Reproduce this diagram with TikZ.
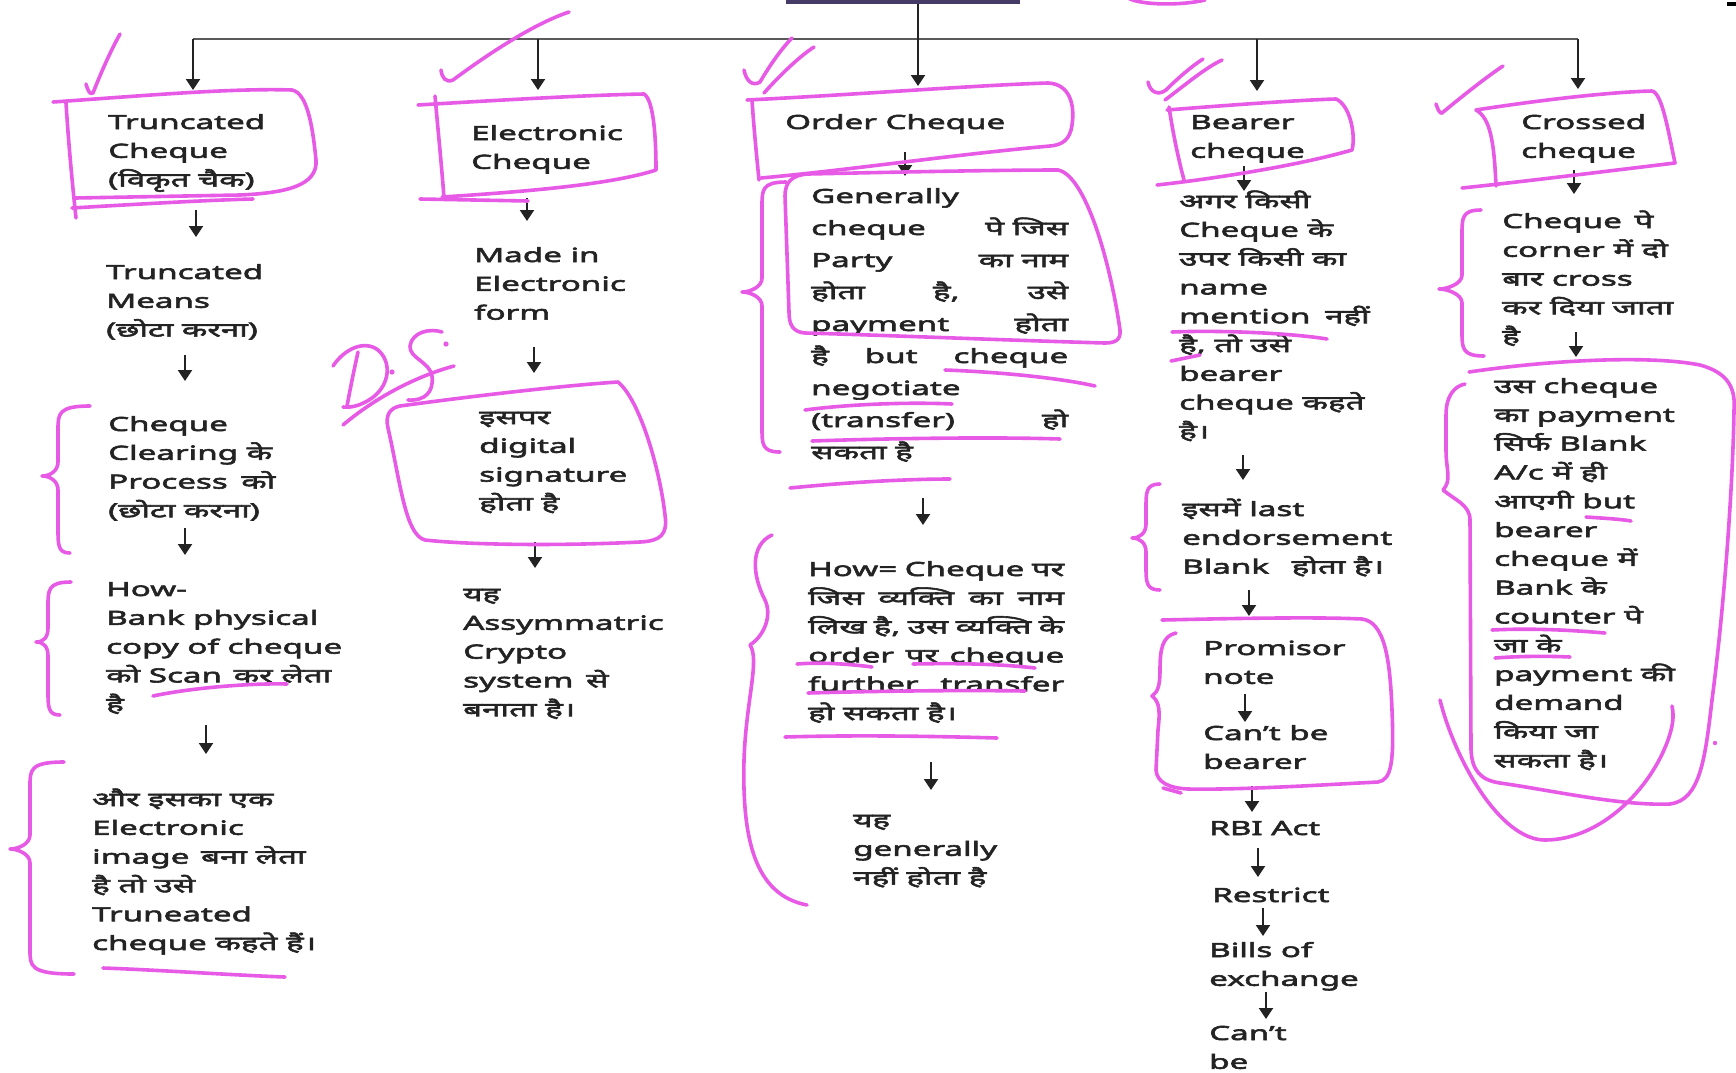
\documentclass[tikz,border=0pt]{standalone}
\usepackage{fontspec}
\setmainfont{Noto Sans}[Script=Devanagari,FakeStretch=1.7,FakeBold=3]
\usetikzlibrary{arrows.meta}
\definecolor{mag}{HTML}{E75AE6}
\definecolor{txtc}{HTML}{232323}
\definecolor{barc}{HTML}{463A66}
\definecolor{linkc}{HTML}{5A5A5A}
% stacked lines, baseline of the node = baseline of the first line
\newcommand\lns[1]{\begin{tabular}[t]{@{}l@{}}#1\end{tabular}}
% a line spread over a fixed width
\newcommand\spread[2]{\hbox to #1pt{#2}}
% vertical arrow between two named coordinates
\newcommand\varrow[4]{\coordinate (#1-s) at (#2,#3);\coordinate (#1-e) at (#2,#4);\draw[arr] (#1-s) -- (#1-e);}
% hand-drawn curly brace: top x,y / spine x / tip x,y / bottom x,y
\newcommand\curly[7]{\draw[ink] (#1,#2) .. controls (#3,#2) and (#3,#2+8) .. (#3,#2+24) -- (#3,#5-14) .. controls (#3,#5-5) and (#4+8,#5) .. (#4,#5) .. controls (#4+8,#5) and (#3,#5+5) .. (#3,#5+14) -- (#3,#7-24) .. controls (#3,#7-8) and (#3,#7) .. (#6,#7);}
\begin{document}
\begin{tikzpicture}[x=1pt,y=-1pt,
  txt/.style={anchor=base west,inner sep=0pt,text=txtc,font=\fontsize{19.5}{28.8}\selectfont},
  txtw/.style={txt,font=\fontsize{19.5}{32}\selectfont},
  arr/.style={draw=txtc,line width=2.2pt,-{Triangle[width=14pt,length=11pt]}},
  link/.style={draw=linkc,line width=1.8pt},
  ink/.style={draw=mag,line width=3.6pt,line cap=round,line join=round}]
\path[use as bounding box,fill=white] (0,0) rectangle (1736,1072);

% ---------- heading bar and distribution line ----------
\fill[barc] (786,-2) rectangle (1020,4);
\fill[black] (1727,2) rectangle (1736,6);
\coordinate (bar) at (918,4);
\coordinate (hubL) at (193,39);
\coordinate (hubR) at (1578,39);
\draw[link] (hubL) -- (hubR);

% ---------- texts ----------
\node[txt] (t1) at (108,129) {\lns{Truncated\\Cheque\\(विकृत चैक)}};
\node[txt] (t2) at (106,279) {\lns{Truncated\\Means\\(छोटा करना)}};
\node[txt] (t3) at (108,431) {\lns{Cheque\\Clearing के\\Process\hspace{5pt} को\\(छोटा करना)}};
\node[txt] (t4) at (106,596) {\lns{How-\\Bank physical\\copy of cheque\\को Scan\hspace{3pt} कर लेता\\है}};
\node[txt] (t5) at (92,806) {\lns{और इसका एक\\Electronic\\image\hspace{3pt} बना लेता\\है तो उसे\\Truneated\\cheque कहते हैं।}};

\node[txt] (e1) at (471,140) {\lns{Electronic\\Cheque}};
\node[txt] (e2) at (474,262) {\lns{Made in\\Electronic\\form}};
\node[txt] (e3) at (479,424) {\lns{इसपर\\digital\\signature\\होता है}};
\node[txt] (e4) at (463,601) {\lns{यह\\Assymmatric\\Crypto\\system\hspace{4pt} से\\बनाता है।}};

\node[txt] (o1) at (785,129) {Order Cheque};
\node[txtw] (o2) at (811,203) {\lns{Generally\\
  \spread{257}{cheque\hfill पे जिस}\\
  \spread{257}{Party\hfill का नाम}\\
  \spread{257}{होता\hfill है,\hfill उसे}\\
  \spread{257}{payment\hfill होता}\\
  \spread{257}{है\hfill but\hfill cheque}\\
  negotiate\\
  \spread{257}{(transfer)\hfill हो}\\
  सकता है}};
\node[txt] (o3) at (808,576) {\lns{\spread{256}{How=\hfill Cheque\hfill पर}\\
  \spread{256}{जिस\hfill व्यक्ति\hfill का\hfill नाम}\\
  \spread{256}{लिख\hfill है,\hfill उस\hfill व्यक्ति\hfill के}\\
  \spread{256}{order\hfill पर\hfill cheque}\\
  \spread{256}{further\hfill transfer}\\
  हो सकता है।}};
\node[txt] (o4) at (853,827) {\lns{यह\\generally\\नहीं होता है}};

\node[txt] (b1) at (1190,129) {\lns{Bearer\\cheque}};
\node[txt] (b2) at (1179,208) {\lns{अगर किसी\\Cheque के\\उपर किसी का\\name\\mention\hspace{6pt} नहीं\\है, तो उसे\\bearer\\cheque कहते\\है।}};
\node[txt] (b3) at (1182,516) {\lns{इसमें last\\endorsement\\Blank\hspace{14pt} होता है।}};
\node[txt] (b4) at (1203,655) {\lns{Promisor\\note}};
\node[txt] (b5) at (1203,740) {\lns{Can’t be\\bearer}};
\node[txt] (b6) at (1209,835) {RBI Act};
\node[txt] (b7) at (1212,902) {Restrict};
\node[txt] (b8) at (1209,957) {\lns{Bills of\\exchange}};
\node[txt] (b9) at (1209,1040) {\lns{Can’t\\be}};

\node[txt] (c1) at (1521,129) {\lns{Crossed\\cheque}};
\node[txt] (c2) at (1502,228) {\lns{Cheque\hspace{4pt} पे\\corner में दो\\बार cross\\कर दिया जाता\\है}};
\node[txt] (c3) at (1494,393) {\lns{उस cheque\\का payment\\सिर्फ Blank\\A/c में ही\\आएगी but\\bearer\\cheque में\\Bank के\\counter पे\\जा के\\payment की\\demand\\किया जा\\सकता है।}};

% ---------- arrows ----------
\draw[arr] (hubL) -- (193,90);
\draw[arr] (hubR) -- (1578,89);
\coordinate (hub2) at (538,39);\coordinate (hub4) at (1257,39);
\draw[arr] (hub2) -- (538,90);
\draw[arr] (hub4) -- (1257,91);
\draw[arr] (bar) -- (918,86);
\varrow{a11}{196}{210}{237}
\varrow{a12}{185}{355}{381}
\varrow{a13}{185}{528}{555}
\varrow{a14}{206}{725}{754}
\varrow{a21}{527}{198}{221}
\varrow{a22}{534}{347}{373}
\varrow{a23}{535}{542}{568}
\varrow{a31}{905}{152}{176}
\varrow{a32}{923}{498}{525}
\varrow{a33}{931}{762}{790}
\varrow{a41}{1244}{166}{191}
\varrow{a42}{1243}{455}{480}
\varrow{a43}{1249}{590}{616}
\varrow{a44}{1245}{694}{722}
\varrow{a45}{1252}{786}{812}
\varrow{a46}{1258}{848}{877}
\varrow{a47}{1263}{908}{936}
\varrow{a48}{1266}{992}{1019}
\varrow{a51}{1574}{170}{194}
\varrow{a52}{1576}{332}{357}

% ---------- pen annotations ----------
% column 1
\draw[ink] (86,84) .. controls (88,91) and (90,95) .. (93,93) .. controls (100,75) and (110,52) .. (120,34);
\draw[ink] (53,102) .. controls (140,96) and (230,88) .. (292,90) .. controls (308,93) and (313,130) .. (316,160) .. controls (318,186) and (285,193) .. (240,195) -- (75,198);
\draw[ink] (72,208) .. controls (140,204) and (210,200) .. (253,199);
\draw[ink] (66,103) .. controls (69,150) and (73,190) .. (76,218);
\curly{90}{406}{58}{42}{476}{70}{553}
\curly{71}{582}{48}{36}{642}{60}{715}
\curly{64}{762}{30}{10}{849}{74}{974}
\draw[ink] (153,696) .. controls (190,688) and (250,683) .. (287,684);
\draw[ink] (103,968) .. controls (160,970) and (230,975) .. (285,977);
% column 2
\draw[ink] (441,70) .. controls (442,78) and (446,83) .. (453,80) .. controls (480,60) and (530,25) .. (569,12);
\draw[ink] (418,105) .. controls (500,100) and (590,95) .. (644,94) .. controls (654,100) and (656,140) .. (656,170) .. controls (610,185) and (520,192) .. (442,197);
\draw[ink] (420,199) -- (528,201);
\draw[ink] (435,96) .. controls (438,130) and (442,170) .. (444,198);
\draw[ink] (400,406) .. controls (480,395) and (570,385) .. (618,382) .. controls (640,400) and (660,470) .. (665,515) .. controls (668,535) and (660,541) .. (640,542) .. controls (560,546) and (470,545) .. (425,540) .. controls (405,535) and (400,480) .. (388,428) .. controls (385,415) and (390,408) .. (400,406);
% D.S.
\draw[ink] (333,366) .. controls (345,348) and (365,340) .. (378,350) .. controls (392,362) and (390,385) .. (372,398) .. controls (362,405) and (352,408) .. (343,407);
\draw[ink] (358,352) .. controls (354,370) and (350,390) .. (347,406);
\fill[mag] (392,372) circle (2.6);
\draw[ink] (442,332) .. controls (430,328) and (412,332) .. (410,346) .. controls (409,358) and (430,362) .. (432,376) .. controls (434,392) and (425,401) .. (408,400);
\fill[mag] (446,344) circle (2.6);
\draw[ink] (343,425) .. controls (370,402) and (410,378) .. (454,366);
% column 3
\draw[ink] (744,70) .. controls (746,80) and (752,87) .. (760,82) .. controls (770,65) and (782,48) .. (792,38);
\draw[ink] (764,93) .. controls (780,75) and (800,56) .. (814,47);
\draw[ink] (747,100) .. controls (850,95) and (980,85) .. (1048,83) .. controls (1070,84) and (1075,105) .. (1072,125) .. controls (1070,140) and (1062,145) .. (1050,146) .. controls (950,155) and (850,170) .. (761,178);
\draw[ink] (752,100) .. controls (754,130) and (757,160) .. (759,180);
\draw[ink] (785,196) .. controls (785,182) and (792,175) .. (808,174) .. controls (900,172) and (1000,170) .. (1058,170) .. controls (1085,175) and (1110,260) .. (1120,330) .. controls (1121,340) and (1115,343) .. (1105,343) .. controls (1000,340) and (880,335) .. (805,333) .. controls (793,332) and (789,325) .. (789,312) -- (785,196);
\curly{786}{182}{762}{742}{292}{780}{452}
\draw[ink] (945,370) .. controls (1000,372) and (1060,378) .. (1095,386);
\draw[ink] (805,410) .. controls (850,404) and (910,402) .. (952,404);
\draw[ink] (812,441) .. controls (900,438) and (1000,437) .. (1060,439);
\draw[ink] (790,488) .. controls (850,482) and (910,479) .. (950,479);
\draw[ink] (772,535) .. controls (750,545) and (752,575) .. (765,600) .. controls (772,615) and (765,635) .. (750,645) .. controls (760,660) and (746,700) .. (744,760) .. controls (742,840) and (755,895) .. (807,905);
\draw[ink] (797,664) .. controls (820,662) and (850,664) .. (872,667);
\draw[ink] (913,664) .. controls (960,663) and (1000,664) .. (1035,668);
\draw[ink] (808,693) .. controls (880,691) and (960,690) .. (1025,691);
\draw[ink] (785,737) .. controls (850,735) and (930,736) .. (997,738);
% column 4
\draw[ink] (1148,82) .. controls (1150,92) and (1158,96) .. (1166,90) .. controls (1178,78) and (1192,66) .. (1203,59);
\draw[ink] (1165,100) .. controls (1185,85) and (1205,68) .. (1222,60);
\draw[ink] (1167,110) .. controls (1230,105) and (1300,100) .. (1336,99) .. controls (1350,105) and (1356,135) .. (1352,150) .. controls (1300,165) and (1220,178) .. (1157,185);
\draw[ink] (1169,107) .. controls (1174,140) and (1180,165) .. (1184,180);
\draw[ink] (1172,332) .. controls (1220,330) and (1290,333) .. (1327,339);
\draw[ink] (1171,361) -- (1200,355);
\curly{1160}{484}{1146}{1132}{538}{1160}{590}
\draw[ink] (1162,620) .. controls (1250,618) and (1320,617) .. (1362,619) .. controls (1385,622) and (1390,660) .. (1392,710) .. controls (1394,760) and (1392,780) .. (1378,782) .. controls (1320,785) and (1240,790) .. (1188,789) .. controls (1168,788) and (1157,782) .. (1156,770);
\draw[ink] (1176,633) .. controls (1162,636) and (1160,650) .. (1160,670) .. controls (1160,685) and (1158,692) .. (1152,696) .. controls (1160,702) and (1160,712) .. (1158,730) -- (1156,770);
\draw[ink] (1163,788) -- (1181,793);
% column 5
\draw[ink] (1436,104) .. controls (1438,110) and (1440,114) .. (1442,113) .. controls (1460,98) and (1485,78) .. (1503,66);
\draw[ink] (1476,110) .. controls (1540,100) and (1610,92) .. (1652,91) .. controls (1662,93) and (1668,130) .. (1675,163) .. controls (1600,172) and (1520,182) .. (1462,188);
\draw[ink] (1476,110) .. controls (1490,118) and (1494,140) .. (1496,186);
\curly{1481}{210}{1462}{1439}{289}{1484}{356}
\draw[ink] (1469,372) .. controls (1550,360) and (1650,355) .. (1700,365) .. controls (1725,372) and (1736,385) .. (1734,410) .. controls (1733,480) and (1725,600) .. (1712,700) .. controls (1705,760) and (1700,800) .. (1670,804) .. controls (1620,806) and (1550,790) .. (1500,783) .. controls (1480,780) and (1472,770) .. (1471,750) -- (1470,520) .. controls (1470,505) and (1455,500) .. (1443,490) .. controls (1452,480) and (1446,470) .. (1446,450) -- (1446,415) .. controls (1446,395) and (1455,386) .. (1465,384);
\draw[ink] (1440,700) .. controls (1455,760) and (1500,840) .. (1545,840) .. controls (1600,840) and (1650,790) .. (1668,740) .. controls (1675,720) and (1673,712) .. (1672,706);
\fill[mag] (1715,743) circle (2.2);
\draw[ink] (1586,517) .. controls (1600,518) and (1620,519) .. (1631,521);
\draw[ink] (1492,630) .. controls (1530,628) and (1570,630) .. (1605,633);
\draw[ink] (1495,658) .. controls (1520,656) and (1550,656) .. (1570,657);
% stroke cut by the upper edge
\draw[ink] (1128,-2) .. controls (1140,5) and (1180,6) .. (1205,0);
\end{tikzpicture}
\end{document}
